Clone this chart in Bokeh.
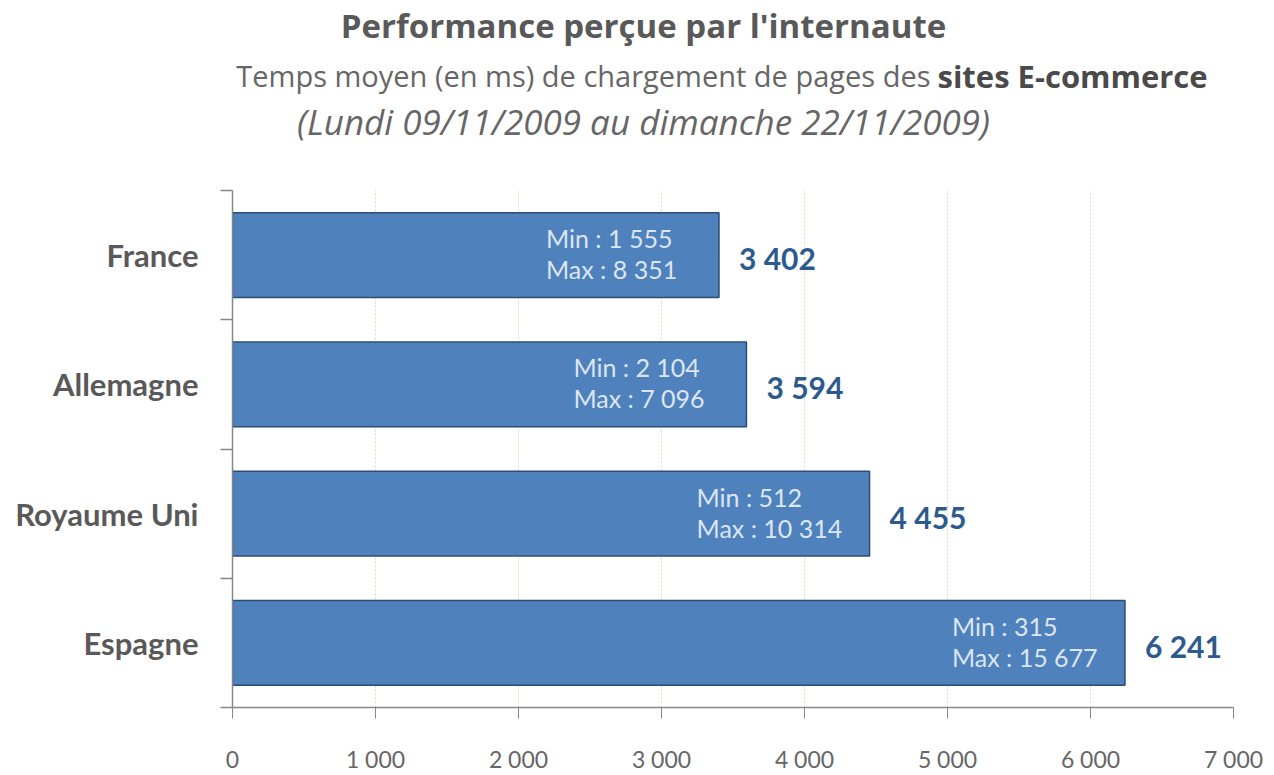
from bokeh.plotting import figure
from bokeh.models import ColumnDataSource, FixedTicker, LabelSet
from bokeh.layouts import column
from bokeh.embed import file_html
from bokeh.resources import INLINE
from bokeh.core.properties import value

# ---- data ----
countries = ["France", "Allemagne", "Royaume Uni", "Espagne"]
mean_ms = [3402, 3594, 4455, 6241]
min_ms = [1555, 2104, 512, 315]
max_ms = [8351, 7096, 10314, 15677]
x_ticks = [0, 1000, 2000, 3000, 4000, 5000, 6000, 7000]

title_main = "Performance perçue par l'internaute"
title_sub_a = "Temps moyen (en ms) de chargement de pages des"
title_sub_b = "sites E-commerce"
title_dates = "(Lundi 09/11/2009 au dimanche 22/11/2009)"

def fr(n):
    return f"{n:,}".replace(",", " ")

FONT = "Lato"
TFONT = "Open Sans"
W = 1274
TH = 150
BL, BR = 232, 41          # left / right borders shared by both panels

# ---- title panel (x data units == page pixels) ----
t = figure(width=W, height=TH, output_backend="svg", toolbar_location=None,
           x_range=(BL, W - BR), y_range=(TH, 0), x_axis_type=None, y_axis_type=None,
           min_border_left=BL, min_border_right=BR, min_border_top=0, min_border_bottom=0)
t.outline_line_color = None
t.grid.grid_line_color = None
t.text(x=[643], y=[25], text=[title_main], text_align="center", text_baseline="middle",
       text_font=value(TFONT), text_font_style="bold", text_font_size="33px",
       text_color="#595959")
t.text(x=[930], y=[75], text=[title_sub_a], text_align="right", text_baseline="middle",
       text_font=value(TFONT), text_font_size="29px", text_color="#666666")
t.text(x=[937], y=[75], text=[title_sub_b], text_align="left", text_baseline="middle",
       text_font=value(TFONT), text_font_style="bold", text_font_size="31px",
       text_color="#4A4A4A")
t.text(x=[643], y=[121], text=[title_dates], text_align="center", text_baseline="middle",
       text_font=value(TFONT), text_font_style="italic", text_font_size="35px",
       text_color="#666666")

# ---- chart ----
n = len(countries)
ypos = [n - i - 0.5 for i in range(n)]
src = ColumnDataSource(dict(
    y=ypos,
    right=mean_ms,
    val=[fr(v) for v in mean_ms],
    mn=[f"Min : {fr(v)}" for v in min_ms],
    mx=[f"Max : {fr(v)}" for v in max_ms],
))

p = figure(width=W, height=775 - TH, output_backend="svg", toolbar_location=None,
           x_range=(0, 7000), y_range=(0, n),
           min_border_left=BL, min_border_right=BR, min_border_top=190 - TH,
           min_border_bottom=65)
p.outline_line_color = None
p.background_fill_color = "white"
p.border_fill_color = "white"

p.hbar(y="y", left=0, right="right", height=0.655, source=src,
       fill_color="#4F81BD", line_color="#2C4D75", line_width=1.5)

p.add_layout(LabelSet(x="right", y="y", text="val", source=src, x_offset=20, y_offset=-3,
                      text_baseline="middle", text_align="left",
                      text_font=value(FONT), text_font_style="bold",
                      text_font_size="30px", text_color="#2D5A8E"))
p.add_layout(LabelSet(x="right", y="y", text="mn", source=src, x_offset=-173, y_offset=17,
                      text_baseline="middle", text_align="left",
                      text_font=value(FONT), text_font_size="25px", text_color="#DCE6F2"))
p.add_layout(LabelSet(x="right", y="y", text="mx", source=src, x_offset=-173, y_offset=-14,
                      text_baseline="middle", text_align="left",
                      text_font=value(FONT), text_font_size="25px", text_color="#DCE6F2"))

p.xaxis.ticker = FixedTicker(ticks=x_ticks)
p.xaxis.major_label_overrides = {t_: fr(t_) for t_ in x_ticks}
p.xaxis.major_tick_out = 11
p.xaxis.major_tick_in = 0
p.xaxis.minor_tick_line_color = None
p.xaxis.axis_line_color = "#868686"
p.xaxis.major_tick_line_color = "#868686"
p.xaxis.axis_line_width = 1.5
p.xaxis.major_label_standoff = 26
p.xaxis.major_label_text_font = FONT
p.xaxis.major_label_text_font_size = "23px"
p.xaxis.major_label_text_color = "#666666"

p.yaxis.ticker = FixedTicker(ticks=ypos, minor_ticks=list(range(n + 1)))
p.yaxis.major_label_overrides = {y: c for y, c in zip(ypos, countries)}
p.yaxis.major_tick_line_color = None
p.yaxis.minor_tick_out = 12
p.yaxis.minor_tick_in = 0
p.yaxis.minor_tick_line_color = "#868686"
p.yaxis.axis_line_color = "#868686"
p.yaxis.axis_line_width = 1.5
p.yaxis.minor_tick_line_width = 1.5
p.yaxis.major_label_standoff = 22
p.yaxis.major_label_text_font = FONT
p.yaxis.major_label_text_font_style = "bold"
p.yaxis.major_label_text_font_size = "31px"
p.yaxis.major_label_text_color = "#595959"

p.xgrid.grid_line_color = "#D8D8C4"
p.xgrid.grid_line_dash = "2 2"
p.ygrid.grid_line_color = None

open("out.html", "w").write(file_html(column(t, p), INLINE))
